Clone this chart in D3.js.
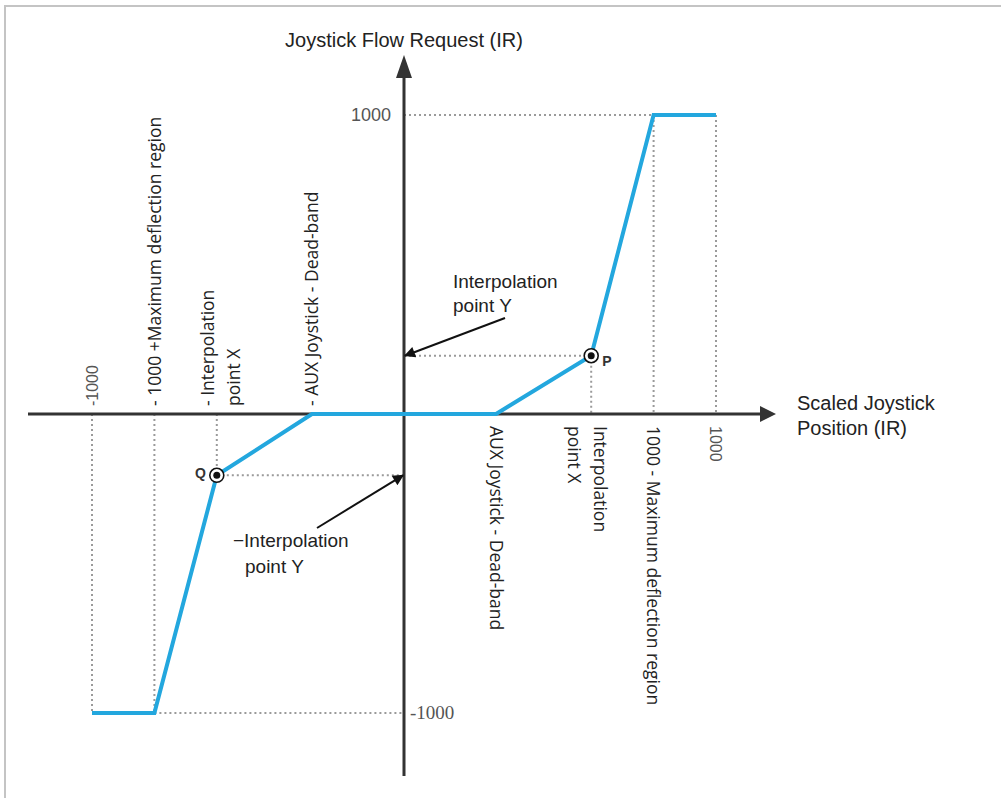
<!DOCTYPE html>
<html>
<head>
<meta charset="utf-8">
<script src="https://cdn.jsdelivr.net/npm/d3@7"></script>
<style>
  html, body { margin: 0; padding: 0; background: #fff; }
  svg { display: block; }
  text { font-family: "Liberation Sans", Arial, sans-serif; fill: #222; }
</style>
</head>
<body>
<svg id="chart" width="1001" height="798"></svg>
<script>
// joystick curve, IR units
const curveX = [-1000, -800, -600, -295, 295, 600, 800, 1000];
const curveY = [-1000, -1000, -205, 0, 0, 195, 1000, 1000];

// interpolation points
const pointNames = ['Q', 'P'];
const pointX = [-600, 600];
const pointY = [-205, 195];

// y axis tick labels
const yTickValues = [1000, -1000];
const yTickLabels = ['1000', '-1000'];

// rotated labels on the x axis
const leftLabelValues = [-1000, -800, -600, -295];
const leftLabelText = [['-1000'], ['- 1000 +Maximum deflection region'], ['- Interpolation', 'point X'], ['- AUX Joystick - Dead-band']];
const rightLabelValues = [295, 600, 800, 1000];
const rightLabelText = [['AUX Joystick - Dead-band'], ['Interpolation', 'point X'], ['1000 - Maximum deflection region'], ['1000']];

// dotted guides [x1, y1, x2, y2]
const guides = [
  [-1000, 0, -1000, -1000], [-800, 0, -800, -1000], [-800, -1000, 0, -1000],
  [-600, 0, -600, -205], [-600, -205, 0, -205],
  [0, 195, 600, 195], [600, 195, 600, 0],
  [0, 1000, 800, 1000], [800, 1000, 800, 0], [1000, 1000, 1000, 0]
];

const yTitle = 'Joystick Flow Request (IR)';
const xTitle = ['Scaled Joystick', 'Position (IR)'];
const noteUpper = ['Interpolation', 'point Y'];
const noteLower = ['\u2212Interpolation', 'point Y'];

const svg = d3.select('#chart');
const x = d3.scaleLinear().domain([-1000, 1000]).range([92, 716]);
const y = d3.scaleLinear().domain([-1000, 1000]).range([713, 115]);
const x0 = x(0), y0 = y(0);

// frame (top + left only)
svg.append('path')
  .attr('d', 'M5,798V6H1001')
  .attr('fill', 'none').attr('stroke', '#c4c4c4').attr('stroke-width', 2);

svg.append('defs').append('marker')
  .attr('id', 'head')
  .attr('viewBox', '0 0 10 10').attr('refX', 9).attr('refY', 5)
  .attr('markerWidth', 15).attr('markerHeight', 11).attr('orient', 'auto')
  .attr('markerUnits', 'userSpaceOnUse')
  .append('path').attr('d', 'M0,0L10,5L0,10z').attr('fill', '#111');

// dotted guides
svg.append('g')
  .selectAll('line').data(guides).join('line')
  .attr('x1', d => x(d[0])).attr('y1', d => y(d[1]))
  .attr('x2', d => x(d[2])).attr('y2', d => y(d[3]))
  .attr('stroke', '#9a9a9a').attr('stroke-width', 2)
  .attr('stroke-dasharray', '2,3');

// axes
const axisG = svg.append('g');
axisG.append('line')
  .attr('x1', 28).attr('y1', y0).attr('x2', 762).attr('y2', y0)
  .attr('stroke', '#333').attr('stroke-width', 3);
axisG.append('path')
  .attr('d', `M776,${y0}L760,${y0 - 8}L760,${y0 + 8}Z`).attr('fill', '#333');
axisG.append('line')
  .attr('x1', x0).attr('y1', 776).attr('x2', x0).attr('y2', 72)
  .attr('stroke', '#333').attr('stroke-width', 3);
axisG.append('path')
  .attr('d', `M${x0},55L${x0 - 8},78L${x0 + 8},78Z`).attr('fill', '#333');

// curve
const curve = d3.zip(curveX, curveY);
svg.append('path')
  .datum(curve)
  .attr('d', d3.line().x(d => x(d[0])).y(d => y(d[1])))
  .attr('fill', 'none').attr('stroke', '#23a7de')
  .attr('stroke-width', 4).attr('stroke-linejoin', 'miter');

// y tick labels
svg.append('text')
  .attr('x', x0 - 13).attr('y', y(yTickValues[0]) + 6)
  .attr('text-anchor', 'end').attr('font-size', 18).style('fill', '#555')
  .text(yTickLabels[0]);
svg.append('text')
  .attr('x', x0 + 6).attr('y', y(yTickValues[1]) + 6)
  .attr('font-size', 19).style('font-family', '"Liberation Serif", serif').style('fill', '#555')
  .text(yTickLabels[1]);

// rotated labels
function rotLabels(values, texts, angle, startY) {
  const g = svg.append('g');
  values.forEach((v, i) => {
    const lines = texts[i];
    const small = lines.length === 1 && /^-?1000$/.test(lines[0]);
    const fs = small ? 16 : 17.5;
    const t = g.append('text')
      .attr('transform', `translate(${x(v)},${startY}) rotate(${angle})`)
      .attr('font-size', fs)
      .style('font-family', small ? '"Liberation Sans", sans-serif' : '"Open Sans", sans-serif')
      .style('fill', small ? '#555' : '#222');
    const shift = lines.length > 1 ? 4 : 0;
    lines.forEach((s, j) => {
      t.append('tspan')
        .attr('x', 0)
        .attr('y', fs * 0.36 + shift + (j - (lines.length - 1) / 2) * 26)
        .text(s);
    });
  });
}
rotLabels(leftLabelValues, leftLabelText, -90, y0 - 8);
rotLabels(rightLabelValues, rightLabelText, 90, y0 + 12);

// axis titles
svg.append('text')
  .attr('x', x0).attr('y', 47).attr('text-anchor', 'middle')
  .attr('font-size', 20).text(yTitle);
svg.append('text')
  .attr('x', 797).attr('y', 410).attr('font-size', 20)
  .selectAll('tspan').data(xTitle).join('tspan')
  .attr('x', 797).attr('dy', (d, i) => i ? 25 : 0).text(d => d);

// notes with arrows
function note(lines, tx, ty, lh, indent, from, to) {
  svg.append('text')
    .attr('x', tx).attr('y', ty).attr('font-size', 19)
    .selectAll('tspan').data(lines).join('tspan')
    .attr('x', (d, i) => i ? tx + indent : tx)
    .attr('dy', (d, i) => i ? lh : 0).text(d => d);
  svg.append('line')
    .attr('x1', from[0]).attr('y1', from[1]).attr('x2', to[0]).attr('y2', to[1])
    .attr('stroke', '#111').attr('stroke-width', 2)
    .attr('marker-end', 'url(#head)');
}
note(noteUpper, 453, 288, 24, 0, [505, 318], [x0 + 1, y(pointY[1])]);
note(noteLower, 233, 547, 26, 12, [317, 528], [x0 - 1, y(pointY[0])]);

// interpolation point markers
const pts = svg.append('g')
  .selectAll('g').data(pointNames).join('g')
  .attr('transform', (d, i) => `translate(${x(pointX[i])},${y(pointY[i])})`);
pts.append('circle').attr('r', 7).attr('fill', '#fff').attr('stroke', '#111').attr('stroke-width', 1.6);
pts.append('circle').attr('r', 3.5).attr('fill', '#111');
pts.append('text')
  .attr('x', (d, i) => pointX[i] < 0 ? -11 : 11)
  .attr('y', (d, i) => pointX[i] < 0 ? 3 : 10)
  .attr('text-anchor', (d, i) => pointX[i] < 0 ? 'end' : 'start')
  .attr('font-size', 14).attr('font-weight', 'bold').style('fill', '#333')
  .text(d => d);
</script>
</body>
</html>
